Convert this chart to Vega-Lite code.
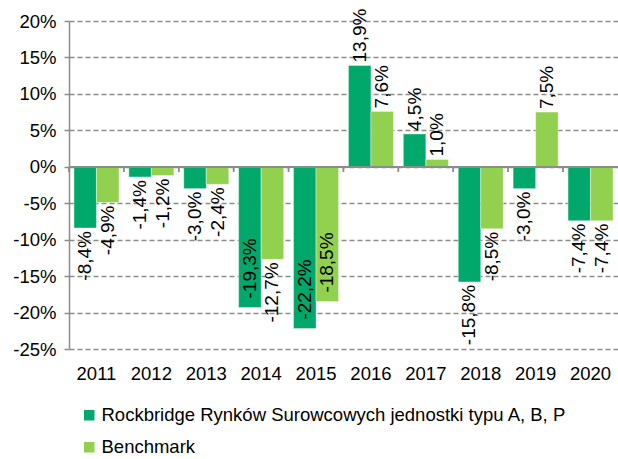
{
  "$schema": "https://vega.github.io/schema/vega-lite/v6.json",
  "width": 549,
  "height": 328,
  "autosize": {"type": "none"},
  "padding": {"left": 69, "top": 21, "right": 0, "bottom": 110},
  "config": {
    "font": "Liberation Sans",
    "view": {"stroke": null},
    "locale": {"number": {"decimal": ",", "thousands": " ", "grouping": [3], "currency": ["", ""], "minus": "-", "percent": "%"}}
  },
  "data": {
    "values": [
      {"year": "2011", "series": "Rockbridge Rynków Surowcowych jednostki typu A, B, P", "value": -0.084},
      {"year": "2011", "series": "Benchmark", "value": -0.049},
      {"year": "2012", "series": "Rockbridge Rynków Surowcowych jednostki typu A, B, P", "value": -0.014},
      {"year": "2012", "series": "Benchmark", "value": -0.012},
      {"year": "2013", "series": "Rockbridge Rynków Surowcowych jednostki typu A, B, P", "value": -0.030},
      {"year": "2013", "series": "Benchmark", "value": -0.024},
      {"year": "2014", "series": "Rockbridge Rynków Surowcowych jednostki typu A, B, P", "value": -0.193},
      {"year": "2014", "series": "Benchmark", "value": -0.127},
      {"year": "2015", "series": "Rockbridge Rynków Surowcowych jednostki typu A, B, P", "value": -0.222},
      {"year": "2015", "series": "Benchmark", "value": -0.185},
      {"year": "2016", "series": "Rockbridge Rynków Surowcowych jednostki typu A, B, P", "value": 0.139},
      {"year": "2016", "series": "Benchmark", "value": 0.076},
      {"year": "2017", "series": "Rockbridge Rynków Surowcowych jednostki typu A, B, P", "value": 0.045},
      {"year": "2017", "series": "Benchmark", "value": 0.010},
      {"year": "2018", "series": "Rockbridge Rynków Surowcowych jednostki typu A, B, P", "value": -0.158},
      {"year": "2018", "series": "Benchmark", "value": -0.085},
      {"year": "2019", "series": "Rockbridge Rynków Surowcowych jednostki typu A, B, P", "value": -0.030},
      {"year": "2019", "series": "Benchmark", "value": 0.075},
      {"year": "2020", "series": "Rockbridge Rynków Surowcowych jednostki typu A, B, P", "value": -0.074},
      {"year": "2020", "series": "Benchmark", "value": -0.074}
    ]
  },
  "layer": [
    {
      "mark": {"type": "bar", "stroke": "white", "strokeWidth": 0.4},
      "encoding": {
        "x": {"field": "year", "type": "ordinal", "scale": {"paddingInner": 0.18, "paddingOuter": 0.09}, "axis": {"title": null, "domain": false, "ticks": false, "labelAngle": 0, "labelFontSize": 18.5, "labelColor": "#000000", "labelPadding": 15, "grid": false}},
        "xOffset": {"field": "series", "type": "nominal", "sort": ["Rockbridge Rynków Surowcowych jednostki typu A, B, P", "Benchmark"]},
        "y": {"field": "value", "type": "quantitative", "scale": {"domain": [-0.25, 0.2], "nice": false, "zero": false}, "axis": {"title": null, "format": ".0%", "values": [-0.25, -0.2, -0.15, -0.1, -0.05, 0, 0.05, 0.1, 0.15, 0.2], "tickCount": 12, "labelOverlap": false, "labelFontSize": 18.5, "labelColor": "#000000", "labelPadding": 8, "domainColor": "#8c8c8c", "domainWidth": 1.5, "tickColor": "#8c8c8c", "tickWidth": 1.5, "tickSize": 5, "grid": true, "gridColor": "#8c8c8c", "gridWidth": 1.5, "gridDash": [5, 3]}},
        "color": {"field": "series", "type": "nominal", "sort": ["Rockbridge Rynków Surowcowych jednostki typu A, B, P", "Benchmark"], "scale": {"range": ["#00A86B", "#92D050"]}, "legend": {"title": null, "orient": "none", "legendX": 11, "legendY": 385, "direction": "vertical", "symbolType": "square", "symbolSize": 110, "symbolStrokeWidth": 0, "labelFontSize": 18.5, "labelColor": "#000000", "labelOffset": 3, "rowPadding": 13, "labelLimit": 600}}
      }
    },
    {
      "mark": {"type": "rule", "color": "#8c8c8c", "strokeWidth": 1.5},
      "encoding": {
        "y": {"datum": 0, "type": "quantitative"}
      }
    },
    {
      "mark": {"type": "rule", "color": "#8c8c8c", "strokeWidth": 1.5},
      "encoding": {
        "x": {"field": "year", "type": "ordinal", "bandPosition": -0.111},
        "y": {"datum": 0, "type": "quantitative"},
        "y2": {"datum": -0.007}
      }
    },
    {
      "transform": [{"filter": "datum.value >= 0"}],
      "mark": {"type": "text", "angle": 270, "align": "left", "baseline": "middle", "dx": 3, "fontSize": 19, "color": "#000000"},
      "encoding": {
        "x": {"field": "year", "type": "ordinal"},
        "xOffset": {"field": "series", "type": "nominal", "sort": ["Rockbridge Rynków Surowcowych jednostki typu A, B, P", "Benchmark"]},
        "y": {"field": "value", "type": "quantitative"},
        "text": {"field": "value", "type": "quantitative", "format": ".1%"}
      }
    },
    {
      "transform": [{"filter": "datum.value < 0 && datum.value > -0.17"}],
      "mark": {"type": "text", "angle": 270, "align": "right", "baseline": "middle", "dx": -3, "fontSize": 19, "color": "#000000"},
      "encoding": {
        "x": {"field": "year", "type": "ordinal"},
        "xOffset": {"field": "series", "type": "nominal", "sort": ["Rockbridge Rynków Surowcowych jednostki typu A, B, P", "Benchmark"]},
        "y": {"field": "value", "type": "quantitative"},
        "text": {"field": "value", "type": "quantitative", "format": ".1%"}
      }
    },
    {
      "transform": [{"filter": "datum.value <= -0.17"}],
      "mark": {"type": "text", "angle": 270, "align": "left", "baseline": "middle", "dx": 9, "fontSize": 19, "color": "#000000"},
      "encoding": {
        "x": {"field": "year", "type": "ordinal"},
        "xOffset": {"field": "series", "type": "nominal", "sort": ["Rockbridge Rynków Surowcowych jednostki typu A, B, P", "Benchmark"]},
        "y": {"field": "value", "type": "quantitative"},
        "text": {"field": "value", "type": "quantitative", "format": ".1%"}
      }
    }
  ]
}
